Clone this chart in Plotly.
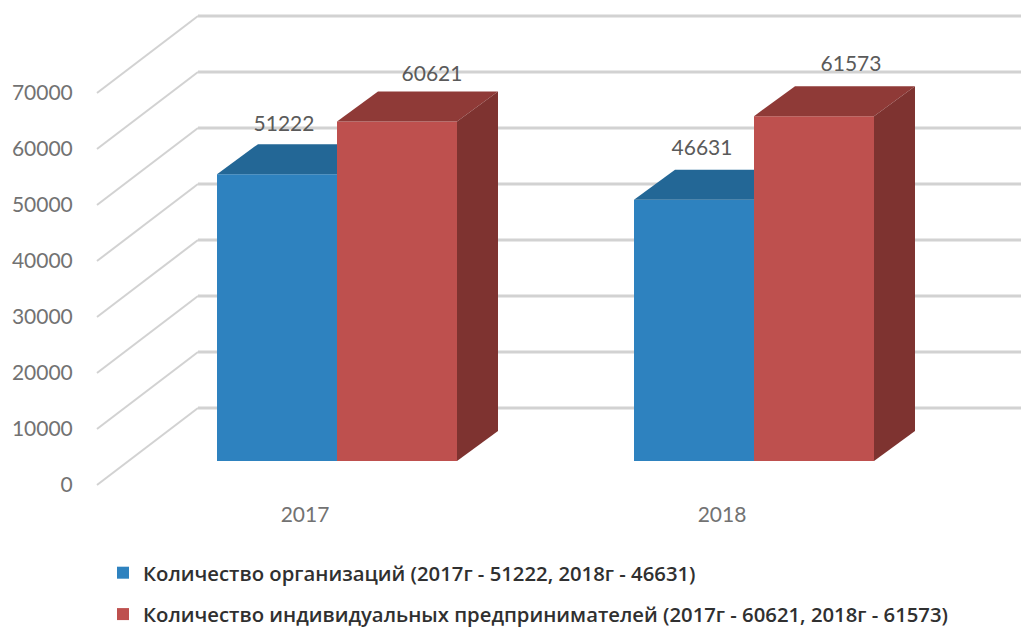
import plotly.graph_objects as go

years = ["2017", "2018"]
organizations = [51222, 46631]
entrepreneurs = [60621, 61573]
y_ticks = [0, 10000, 20000, 30000, 40000, 50000, 60000, 70000]
series_names = ["Количество организаций (2017г - 51222, 2018г - 46631)",
                "Количество индивидуальных предпринимателей (2017г - 60621, 2018г - 61573)"]

W, H = 1021, 627
L, B = 85, 132
PX_PER_CAT = 417.0
PX_PER_VAL = 0.0056
X0_PX, Y0_PX = 305.0, 485.0          # front-plane origin


def dx(px):
    return px / PX_PER_CAT


def dv(px):
    return px / PX_PER_VAL


BAR_W = dx(120)
BAR_SHIFT_X, BAR_SHIFT_V = dx(32), dv(24)
DEPTH_X, DEPTH_V = dx(41), dv(30)
WALL_X, WALL_V = dx(101), dv(77)

BLUE, BLUE_TOP = "#2e82bf", "#236796"
RED, RED_TOP, RED_SIDE = "#be504e", "#8f3a37", "#7e3330"
GRID = "#d2d2d2"
TEXT = "#727272"
FONT = "Lato, 'Open Sans', sans-serif"

fig = go.Figure()
xs = list(range(len(years)))
x_min = (L - X0_PX) / PX_PER_CAT
x_max = (W - X0_PX) / PX_PER_CAT

# back wall gridlines and floor diagonals
shapes = []
for t in y_ticks:
    shapes.append(dict(type="line", layer="below", xref="x", yref="y",
                       x0=x_min + dx(12), y0=t, x1=x_min + dx(12) + WALL_X, y1=t + WALL_V,
                       line=dict(color=GRID, width=2)))
    shapes.append(dict(type="line", layer="below", xref="x", yref="y",
                       x0=x_min + dx(12) + WALL_X, y0=t + WALL_V, x1=x_max, y1=t + WALL_V,
                       line=dict(color=GRID, width=3)))

# front faces
left_x = [x + BAR_SHIFT_X - BAR_W / 2 for x in xs]
right_x = [x + BAR_SHIFT_X + BAR_W / 2 for x in xs]
fig.add_trace(go.Bar(x=left_x, y=organizations, base=[BAR_SHIFT_V] * 2, width=BAR_W,
                     marker=dict(color=BLUE, line=dict(width=0)),
                     name=series_names[0], legendgroup="a", hoverinfo="skip"))
fig.add_trace(go.Bar(x=right_x, y=entrepreneurs, base=[BAR_SHIFT_V] * 2, width=BAR_W,
                     marker=dict(color=RED, line=dict(width=0)),
                     name=series_names[1], legendgroup="b", hoverinfo="skip"))


def poly(px, py, color):
    fig.add_trace(go.Scatter(x=px, y=py, mode="lines", fill="toself", fillcolor=color,
                             line=dict(width=0), showlegend=False, hoverinfo="skip"))


for i, x in enumerate(xs):
    centre = x + BAR_SHIFT_X
    # blue top: hidden by the taller red bar beyond its left edge
    top = organizations[i] + BAR_SHIFT_V
    poly([centre - BAR_W, centre - BAR_W + DEPTH_X, centre, centre, centre - BAR_W],
         [top, top + DEPTH_V, top + DEPTH_V, top, top], BLUE_TOP)
    # red top and side
    top = entrepreneurs[i] + BAR_SHIFT_V
    poly([centre, centre + DEPTH_X, centre + BAR_W + DEPTH_X, centre + BAR_W, centre],
         [top, top + DEPTH_V, top + DEPTH_V, top, top], RED_TOP)
    poly([centre + BAR_W, centre + BAR_W + DEPTH_X, centre + BAR_W + DEPTH_X, centre + BAR_W, centre + BAR_W],
         [top, top + DEPTH_V, BAR_SHIFT_V + DEPTH_V, BAR_SHIFT_V, top], RED_SIDE)

# value labels
label_off_blue = [(7, 48), (8, 50)]
label_off_red = [(35, 46), (37, 50)]
lx, ly, lt = [], [], []
for i, x in enumerate(xs):
    c = x + BAR_SHIFT_X
    lx.append(c - BAR_W / 2 + dx(label_off_blue[i][0]))
    ly.append(organizations[i] + BAR_SHIFT_V + dv(label_off_blue[i][1]))
    lt.append(str(organizations[i]))
    lx.append(c + BAR_W / 2 + dx(label_off_red[i][0]))
    ly.append(entrepreneurs[i] + BAR_SHIFT_V + dv(label_off_red[i][1]))
    lt.append(str(entrepreneurs[i]))
fig.add_trace(go.Scatter(x=lx, y=ly, text=lt, mode="text", textposition="middle center",
                         textfont=dict(family=FONT, size=21, color="#5a5a5a"),
                         showlegend=False, hoverinfo="skip"))

fig.update_layout(
    width=W, height=H, autosize=False,
    margin=dict(l=L, r=0, t=0, b=B, autoexpand=False),
    paper_bgcolor="white", plot_bgcolor="white",
    barmode="overlay", shapes=shapes,
    font=dict(family=FONT, size=21, color=TEXT),
    xaxis=dict(range=[x_min, x_max], tickvals=xs, ticktext=years, showgrid=False,
               zeroline=False, showline=False, ticks="outside", ticklen=1,
               tickcolor="rgba(0,0,0,0)", tickfont=dict(size=21, color=TEXT)),
    yaxis=dict(range=[(Y0_PX - (H - B)) / PX_PER_VAL, Y0_PX / PX_PER_VAL],
               tickvals=y_ticks, tickformat="d", showgrid=False, zeroline=False,
               showline=False, ticks="outside", ticklen=7, tickcolor="rgba(0,0,0,0)",
               tickfont=dict(size=21, color=TEXT)),
    legend=dict(xref="container", yref="container", x=103 / W, y=1 - 553 / H,
                xanchor="left", yanchor="top", tracegroupgap=12,
                traceorder="grouped", bgcolor="rgba(0,0,0,0)",
                font=dict(family="'Open Sans', sans-serif", size=20.3, weight=600, color="#303030")),
)
fig.write_html("out.html", config={"displayModeBar": False},
               post_script="document.body.style.margin='0';")
